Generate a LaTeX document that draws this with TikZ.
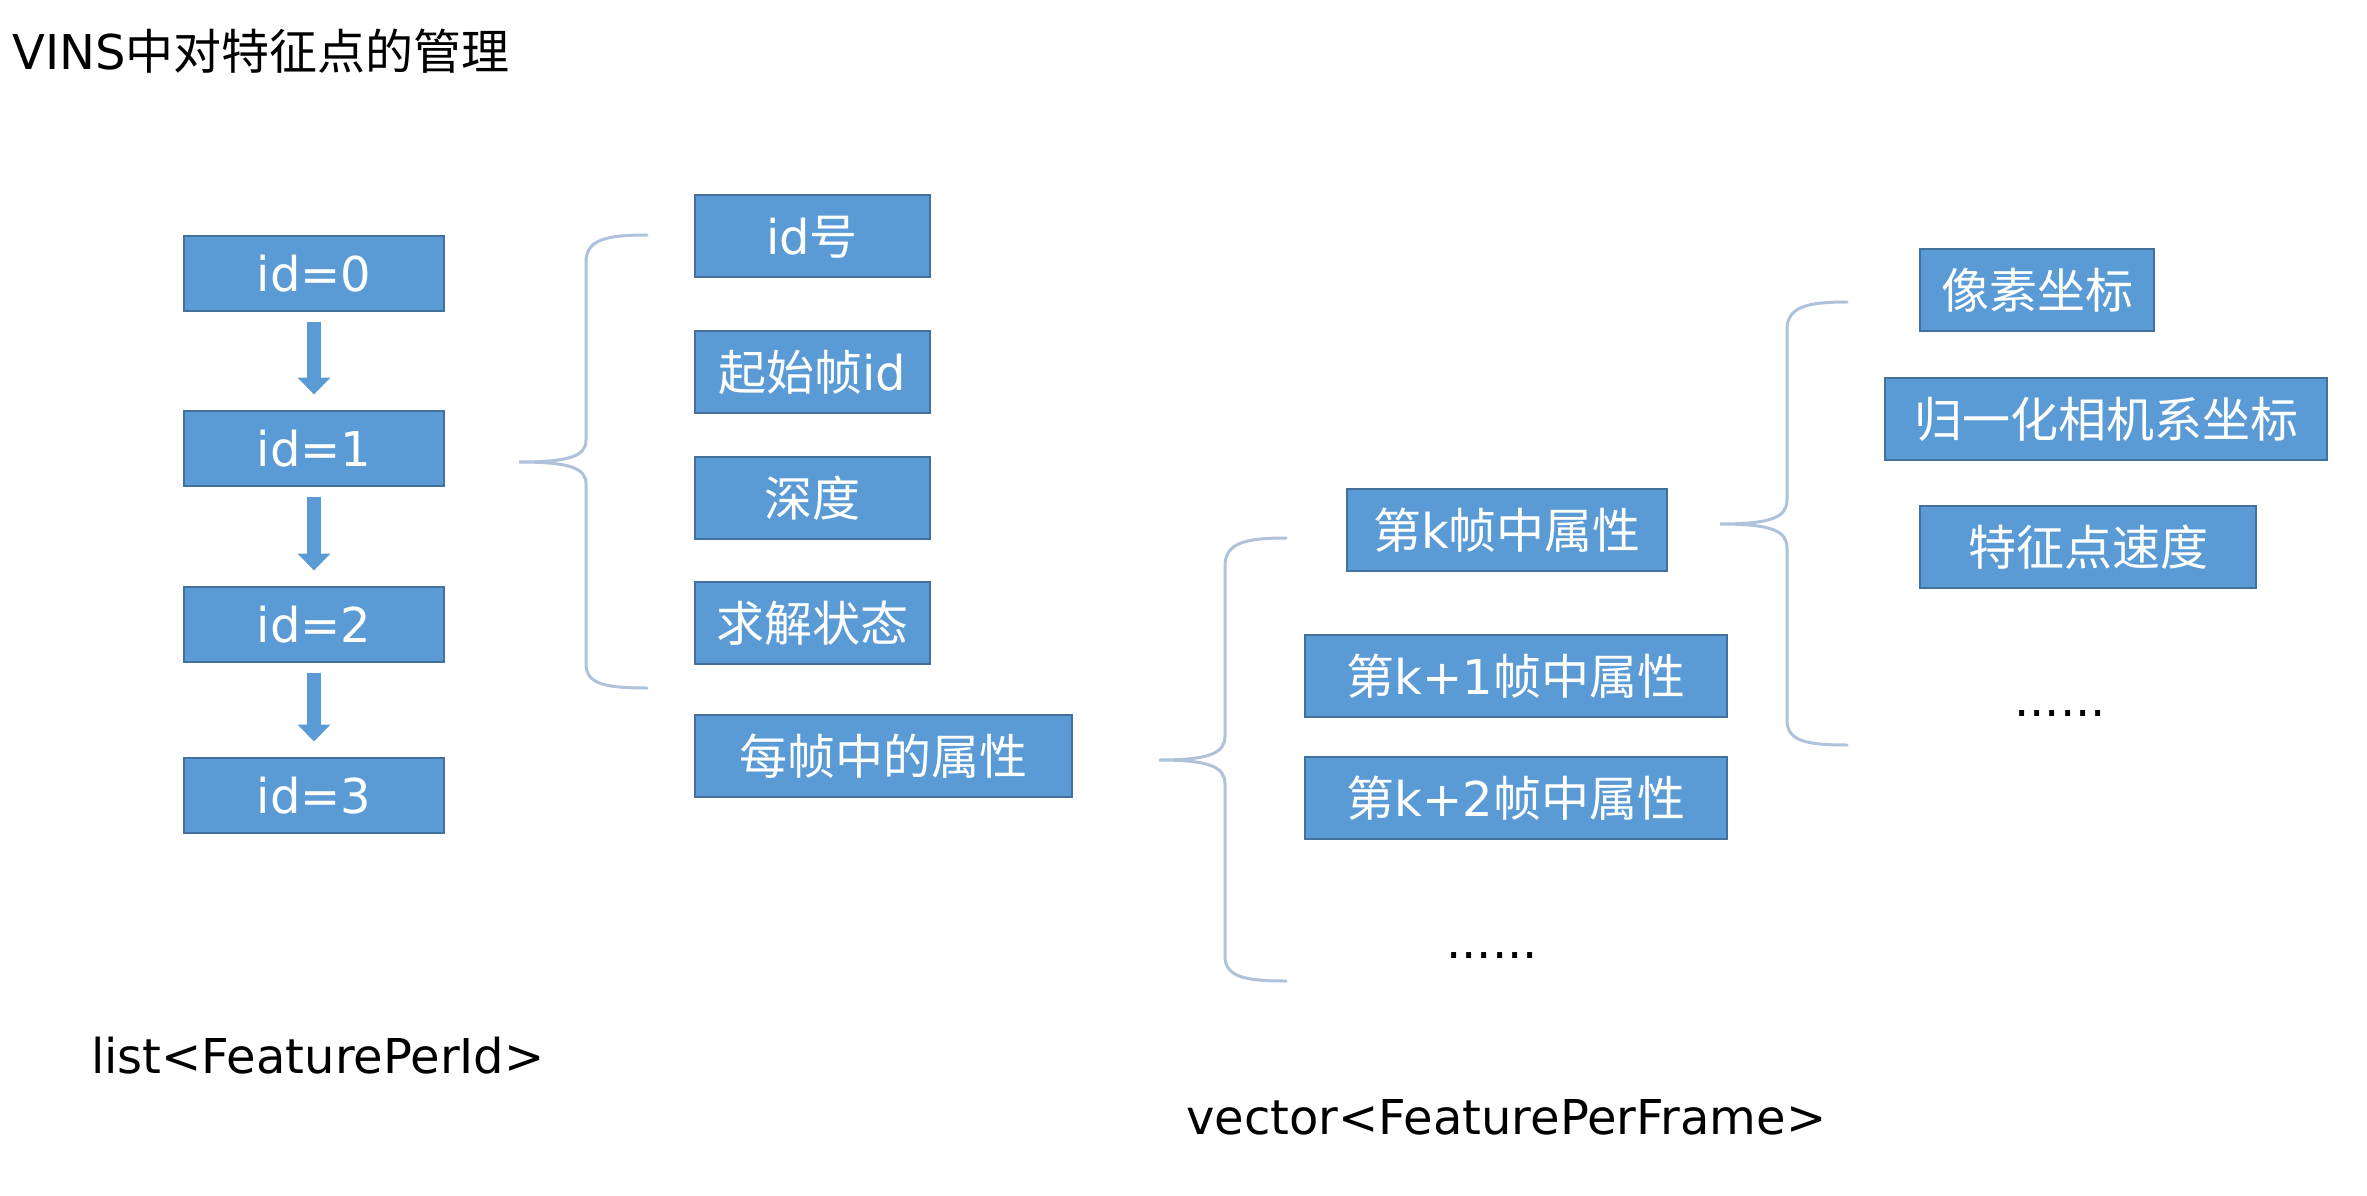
\documentclass[tikz,border=0pt]{standalone}
\usepackage{fontspec}
\setmainfont{DejaVu Sans}
\newfontfamily\cjk{Noto Sans CJK SC}
\usetikzlibrary{arrows.meta}
\definecolor{boxfill}{HTML}{5B9BD5}
\definecolor{boxline}{HTML}{41719C}
\definecolor{bracecol}{HTML}{AEC2DC}
\tikzset{
  bluebox/.style={draw=boxline, line width=2pt, fill=boxfill, text=white,
    minimum height=82pt, inner sep=0pt, text height=39.5pt, text depth=3pt,
    font=\fontsize{48}{57}\selectfont},
  idbox/.style={bluebox, minimum width=260pt, minimum height=75pt},
  blockarrow/.style={draw=boxfill, line width=14pt,
    -{Triangle[width=32pt,length=17pt]}, shorten <=10pt, shorten >=15pt},
  bracecurve/.style={draw=bracecol, line width=3pt, line cap=round},
  plaintext/.style={inner sep=0pt, font=\fontsize{48}{57}\selectfont, text=black}
}
\begin{document}
\begin{tikzpicture}[x=1pt,y=-1pt]
\useasboundingbox (0,0) rectangle (2367,1196);
\fill[white] (0,0) rectangle (2367,1196);

% title
\node[plaintext, anchor=base west] (title) at (12,70) {VINS{\cjk 中对特征点的管理}};

% id column
\node[idbox] (id0) at (314,273) {id=0};
\node[idbox] (id1) at (314,448) {id=1};
\node[idbox] (id2) at (314,624) {id=2};
\node[idbox] (id3) at (314,795) {id=3};
\draw[blockarrow] (id0.south) -- (id1.north);
\draw[blockarrow] (id1.south) -- (id2.north);
\draw[blockarrow] (id2.south) -- (id3.north);

% first attribute column
\node[bluebox, minimum width=235pt] (a1) at (812,236) {id{\cjk 号}};
\node[bluebox, minimum width=235pt] (a2) at (812,372) {{\cjk 起始帧}id};
\node[bluebox, minimum width=235pt] (a3) at (812,498) {\cjk 深度};
\node[bluebox, minimum width=235pt] (a4) at (812,623) {\cjk 求解状态};
\node[bluebox, minimum width=377pt] (a5) at (883,756) {\cjk 每帧中的属性};

% per-frame column
\node[bluebox, minimum width=320pt] (f0) at (1507,530) {{\cjk 第}k{\cjk 帧中属性}};
\node[bluebox, minimum width=422pt] (f1) at (1516,676) {{\cjk 第}k+1{\cjk 帧中属性}};
\node[bluebox, minimum width=422pt] (f2) at (1516,798) {{\cjk 第}k+2{\cjk 帧中属性}};
\node[plaintext, anchor=base] (fdots) at (1492,958) {......};

% per-frame attributes column
\node[bluebox, minimum width=234pt] (p1) at (2037,290) {\cjk 像素坐标};
\node[bluebox, minimum width=442pt] (p2) at (2106,419) {\cjk 归一化相机系坐标};
\node[bluebox, minimum width=336pt] (p3) at (2088,547) {\cjk 特征点速度};
\node[plaintext, anchor=base] (pdots) at (2060,716) {......};

% labels
\node[plaintext, anchor=base west] (lbl1) at (91,1073) {list<FeaturePerId>};
\node[plaintext, anchor=base west] (lbl2) at (1186,1134) {vector<FeaturePerFrame>};

% braces
\draw[bracecurve] (647,235) .. controls (605,235) and (586,240) .. (586,262)
  -- (586,440) .. controls (586,456) and (570,462) .. (519,462)
  .. controls (570,462) and (586,468) .. (586,484)
  -- (586,664) .. controls (586,684) and (605,688) .. (647,688);
\draw[bracecurve] (1286,538) .. controls (1245,538) and (1225,543) .. (1225,566)
  -- (1225,736) .. controls (1225,753) and (1210,760) .. (1159,760)
  .. controls (1210,760) and (1225,767) .. (1225,784)
  -- (1225,956) .. controls (1225,977) and (1245,981) .. (1286,981);
\draw[bracecurve] (1847,302) .. controls (1806,302) and (1787,307) .. (1787,330)
  -- (1787,500) .. controls (1787,517) and (1772,524) .. (1720,524)
  .. controls (1772,524) and (1787,531) .. (1787,548)
  -- (1787,720) .. controls (1787,741) and (1806,745) .. (1847,745);
\end{tikzpicture}
\end{document}
